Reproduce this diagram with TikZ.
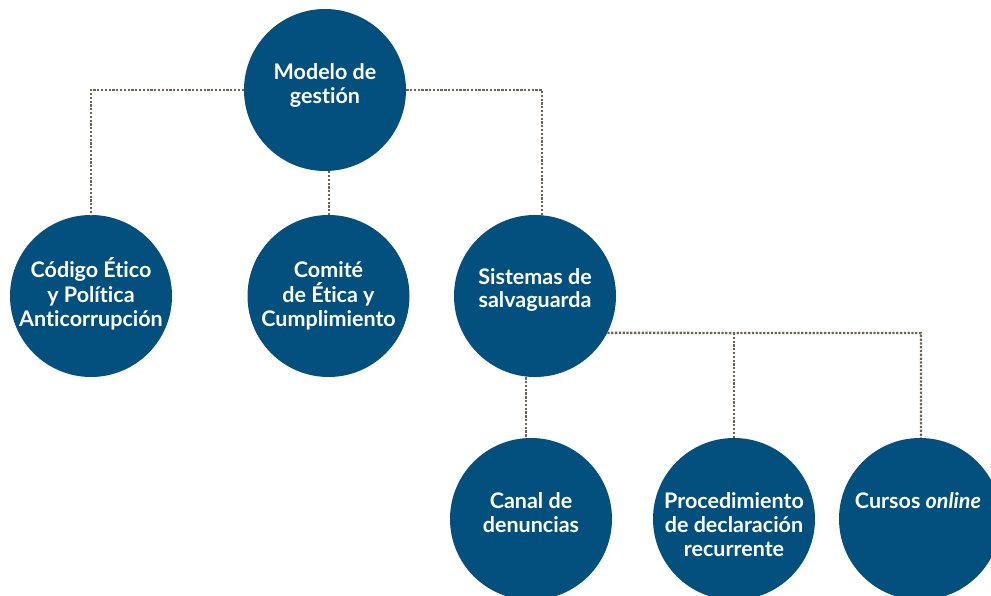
\documentclass[tikz,border=0pt]{standalone}
\usepackage{fontspec}
\setmainfont{Lato}[Ligatures={NoCommon}]
\definecolor{circblue}{HTML}{034F7E}
\definecolor{dotcol}{HTML}{6E6250}
\begin{document}
\begin{tikzpicture}[x=1pt,y=-1pt,
  bub/.style={circle,fill=circblue,minimum size=162pt,inner sep=0pt},
  lbl/.style={text=white,align=center,font=\bfseries\fontsize{21.5}{24}\selectfont,anchor=base,inner sep=0pt},
  dotline/.style={draw=dotcol,line width=2.3pt,dash pattern=on 2.3pt off 1.5pt}]
\useasboundingbox (0,0) rectangle (991,596);
\node[bub] (top) at (325,90) {};
\node[bub] (cod) at (91,296) {};
\node[bub] (com) at (328.5,296) {};
\node[bub] (sis) at (535,296) {};
\node[bub] (can) at (531,519) {};
\node[bub] (pro) at (734,519) {};
\node[bub] (cur) at (920,519) {};
\node[lbl] (ttop) at (325,104) {Modelo de\\gestión};
\node[lbl] (tcod) at (91,326) {Código Ético\\y Política\\Anticorrupción};
\node[lbl] (tcom) at (328.5,326) {Comité\\de Ética y\\Cumplimiento};
\node[lbl] (tsis) at (535,308) {Sistemas de\\salvaguarda};
\node[lbl] (tcan) at (531,532) {Canal de\\denuncias};
\node[lbl] (tpro) at (734,556) {Procedimiento\\de declaración\\recurrente};
\node[lbl] (tcur) at (918,508) {Cursos \textit{online}};
\coordinate (jr) at (921,333);
\draw[dotline] (top.west) -| (cod.north);
\draw[dotline] ([xshift=4pt]top.south) -- ([xshift=0.5pt]com.north);
\draw[dotline] (top.east) -| ([xshift=7pt]sis.north);
\draw[dotline] (sis.-27) -- (jr) -- ([xshift=1pt]cur.north);
\draw[dotline] (pro.north) -- (pro.north |- jr);
\draw[dotline] ([xshift=-9pt]sis.south) -- ([xshift=-5pt]can.north);
\end{tikzpicture}
\end{document}
